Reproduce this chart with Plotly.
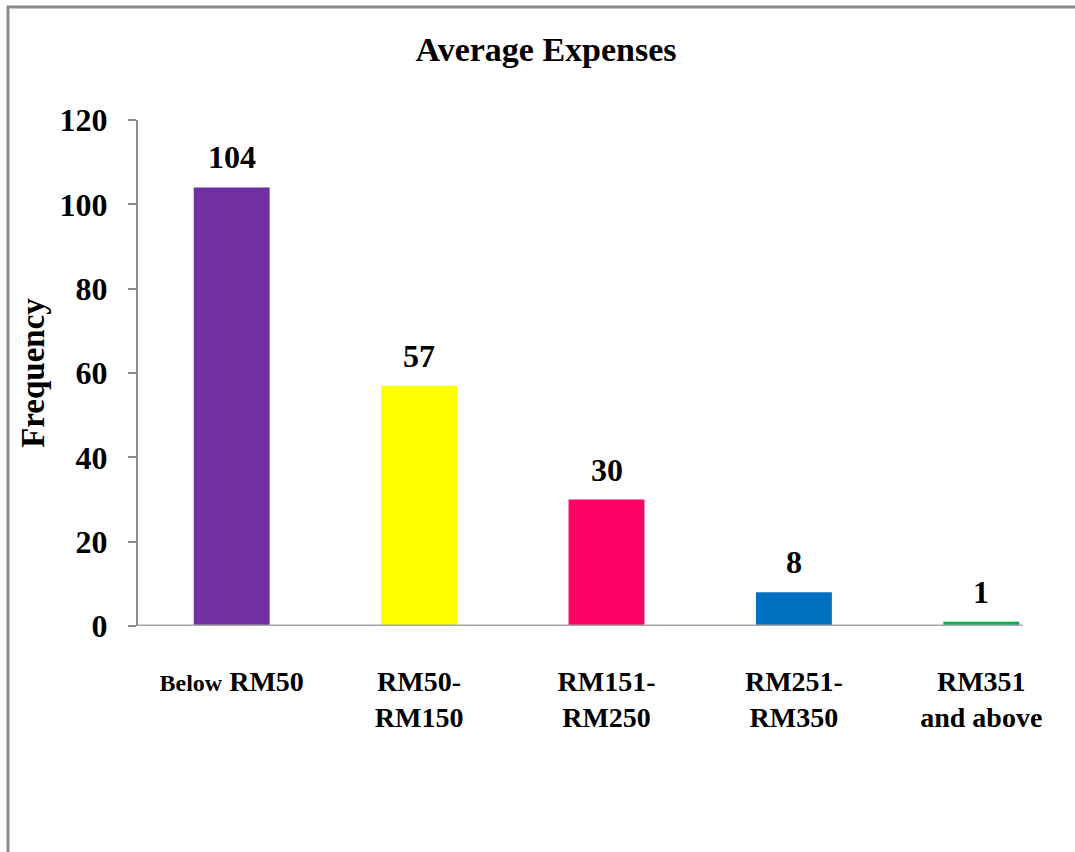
import plotly.graph_objects as go

# Average monthly expense bands and respondent counts
categories = ["Below RM50", "RM50-RM150", "RM151-RM250", "RM251-RM350", "RM351 and above"]
tick_labels = [
    "<span style='font-size:24px'>Below</span> RM50",
    "RM50-<br>RM150",
    "RM151-<br>RM250",
    "RM251-<br>RM350",
    "RM351<br>and above",
]
frequency = [104, 57, 30, 8, 1]
bar_colors = ["#7030A0", "#FFFF00", "#FF0066", "#0070C0", "#00B050"]

serif = "Liberation Serif, Times New Roman, serif"
bold_black = dict(family=serif, color="black", weight="bold")

fig = go.Figure(
    go.Bar(
        x=categories,
        y=frequency,
        marker=dict(color=bar_colors, line=dict(width=0)),
        width=0.405,
        hoverinfo="x+y",
    )
)

# Value labels above each bar
for cat, val in zip(categories, frequency):
    fig.add_annotation(
        x=cat, y=val, xref="x", yref="y",
        text=str(val),
        showarrow=False,
        yanchor="bottom",
        yshift=10,
        font=dict(size=32, **bold_black),
    )

fig.update_layout(
    width=1075,
    height=852,
    margin=dict(l=138, r=0, t=120, b=226),
    paper_bgcolor="white",
    plot_bgcolor="white",
    showlegend=False,
    title=dict(
        text="Average Expenses",
        x=0.508,
        xanchor="center",
        y=1 - 49 / 852,
        yanchor="middle",
        font=dict(size=34, **bold_black),
    ),
    font=dict(family=serif, color="black"),
)

fig.update_xaxes(
    range=[-0.5, 4.5],
    tickmode="array",
    tickvals=categories,
    ticktext=tick_labels,
    tickfont=dict(size=28, **bold_black),
    ticks="",
    showline=False,
    showgrid=False,
    zeroline=False,
    ticklabelstandoff=36,
)

fig.update_yaxes(
    range=[0, 120],
    tickvals=[0, 20, 40, 60, 80, 100, 120],
    tickfont=dict(size=32, **bold_black),
    ticks="outside",
    ticklen=8,
    tickwidth=2,
    tickcolor="#8c8c8c",
    showline=True,
    linecolor="#8c8c8c",
    linewidth=2,
    showgrid=False,
    zeroline=False,
    ticklabelstandoff=14,
    title=dict(
        text="Frequency",
        font=dict(size=33, **bold_black),
        standoff=5,
    ),
)

# Category baseline along zero
fig.add_shape(
    type="line",
    xref="x", yref="y",
    x0=-0.5, x1=4.22, y0=0, y1=0,
    line=dict(color="#a6a6a6", width=3),
    layer="above",
)

# Chart-area frame (right and bottom edges fall outside the canvas)
fig.add_shape(
    type="rect",
    xref="paper", yref="paper",
    x0=-130 / 937, x1=1.02,
    y0=-0.6, y1=1 + 113 / 506,
    line=dict(color="#8c8c8c", width=3),
    layer="below",
)

fig.write_html("out.html")
